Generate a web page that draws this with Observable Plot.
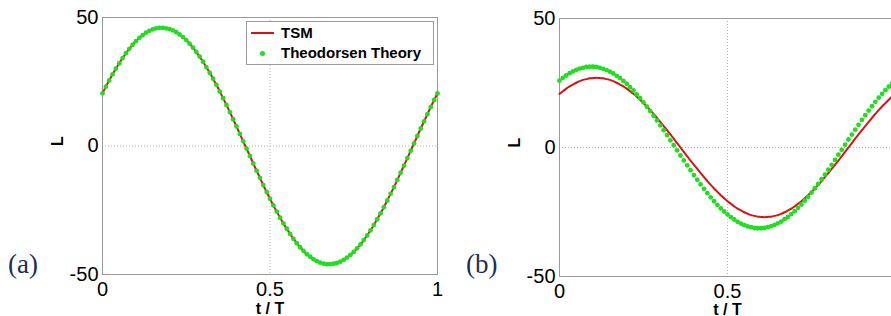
<!DOCTYPE html>
<html>
<head>
<meta charset="utf-8">
<script src="https://cdn.jsdelivr.net/npm/d3@7"></script>
<script src="https://cdn.jsdelivr.net/npm/@observablehq/plot@0.6"></script>
<style>
  html, body { margin: 0; padding: 0; background: #fff; }
  #wrap { position: relative; width: 891px; height: 316px; overflow: hidden; background: #fff; }
  .panel { position: absolute; top: 0; }
  .panel svg { max-width: none !important; }
  .tag { position: absolute; font-family: "Liberation Serif", "Times New Roman", serif; font-size: 27px; line-height: 27px; color: #1f2e52; }
  #legend { position: absolute; left: 246px; top: 21px; width: 186px; height: 42px; border: 1px solid #9a9a9a; background: #fff;
            font-family: "Liberation Sans", Arial, sans-serif; font-weight: bold; font-size: 15px; color: #000; }
  #legend .lbl { position: absolute; left: 34px; line-height: 18px; white-space: nowrap; }
</style>
</head>
<body>
<div id="wrap">
  <div id="pa" class="panel" style="left:0;width:445px"></div>
  <div id="pb" class="panel" style="left:445px;width:460px"></div>
  <div id="legend">
    <div style="position:absolute;left:4px;top:10px;width:23px;height:2px;background:#dd1111"></div>
    <div class="lbl" style="top:2px">TSM</div>
    <div style="position:absolute;left:13px;top:29px;width:5px;height:5px;border-radius:50%;background:#22dd22"></div>
    <div class="lbl" style="top:22px">Theodorsen Theory</div>
  </div>
  <div class="tag" style="left:8px;top:251px">(a)</div>
  <div class="tag" style="left:466px;top:251px">(b)</div>
</div>
<script>
// time grid t/T
const tGrid = [0,0.01,0.02,0.03,0.04,0.05,0.06,0.07,0.08,0.09,0.1,0.11,0.12,0.13,0.14,0.15,0.16,0.17,0.18,0.19,0.2,
  0.21,0.22,0.23,0.24,0.25,0.26,0.27,0.28,0.29,0.3,0.31,0.32,0.33,0.34,0.35,0.36,0.37,0.38,0.39,0.4,
  0.41,0.42,0.43,0.44,0.45,0.46,0.47,0.48,0.49,0.5,0.51,0.52,0.53,0.54,0.55,0.56,0.57,0.58,0.59,0.6,
  0.61,0.62,0.63,0.64,0.65,0.66,0.67,0.68,0.69,0.7,0.71,0.72,0.73,0.74,0.75,0.76,0.77,0.78,0.79,0.8,
  0.81,0.82,0.83,0.84,0.85,0.86,0.87,0.88,0.89,0.9,0.91,0.92,0.93,0.94,0.95,0.96,0.97,0.98,0.99,1];

// panel (a): TSM and Theodorsen theory (coincide)
const tsmA = [20.5,23.1,25.5,27.9,30.1,32.2,34.2,36.1,37.8,39.4,40.8,42.1,43.1,44.1,44.8,45.4,45.8,46.0,46.0,45.8,45.5,
  45.0,44.3,43.4,42.4,41.2,39.8,38.3,36.6,34.8,32.8,30.7,28.5,26.2,23.8,21.2,18.6,16.0,13.2,10.4,7.6,
  4.7,1.8,-1.0,-3.9,-6.8,-9.6,-12.4,-15.2,-17.9,-20.5,
  -23.1,-25.5,-27.9,-30.1,-32.2,-34.2,-36.1,-37.8,-39.4,-40.8,-42.1,-43.1,-44.1,-44.8,-45.4,-45.8,-46.0,-46.0,-45.8,-45.5,
  -45.0,-44.3,-43.4,-42.4,-41.2,-39.8,-38.3,-36.6,-34.8,-32.8,-30.7,-28.5,-26.2,-23.8,-21.2,-18.6,-16.0,-13.2,-10.4,-7.6,
  -4.7,-1.8,1.0,3.9,6.8,9.6,12.4,15.2,17.9,20.5];
const theoA = [20.5,23.1,25.5,27.9,30.1,32.2,34.2,36.1,37.8,39.4,40.8,42.1,43.1,44.1,44.8,45.4,45.8,46.0,46.0,45.8,45.5,
  45.0,44.3,43.4,42.4,41.2,39.8,38.3,36.6,34.8,32.8,30.7,28.5,26.2,23.8,21.2,18.6,16.0,13.2,10.4,7.6,
  4.7,1.8,-1.0,-3.9,-6.8,-9.6,-12.4,-15.2,-17.9,-20.5,
  -23.1,-25.5,-27.9,-30.1,-32.2,-34.2,-36.1,-37.8,-39.4,-40.8,-42.1,-43.1,-44.1,-44.8,-45.4,-45.8,-46.0,-46.0,-45.8,-45.5,
  -45.0,-44.3,-43.4,-42.4,-41.2,-39.8,-38.3,-36.6,-34.8,-32.8,-30.7,-28.5,-26.2,-23.8,-21.2,-18.6,-16.0,-13.2,-10.4,-7.6,
  -4.7,-1.8,1.0,3.9,6.8,9.6,12.4,15.2,17.9,20.5];

// panel (b)
const tsmB = [20.8,21.8,22.8,23.7,24.4,25.1,25.7,26.2,26.5,26.8,26.9,27.0,26.9,26.8,26.5,26.2,25.7,25.1,24.4,23.7,22.8,
  21.8,20.8,19.7,18.5,17.2,15.9,14.5,13.0,11.5,9.9,8.3,6.7,5.1,3.4,1.7,0.0,-1.7,-3.4,-5.1,-6.7,
  -8.3,-9.9,-11.5,-13.0,-14.5,-15.9,-17.2,-18.5,-19.7,-20.8,
  -21.8,-22.8,-23.7,-24.4,-25.1,-25.7,-26.2,-26.5,-26.8,-26.9,-27.0,-26.9,-26.8,-26.5,-26.2,-25.7,-25.1,-24.4,-23.7,-22.8,
  -21.8,-20.8,-19.7,-18.5,-17.2,-15.9,-14.5,-13.0,-11.5,-9.9,-8.3,-6.7,-5.1,-3.4,-1.7,0.0,1.7,3.4,5.1,6.7,
  8.3,9.9,11.5,13.0,14.5,15.9,17.2,18.5,19.7,20.8];
const theoB = [25.9,27.0,27.9,28.8,29.5,30.1,30.6,30.9,31.2,31.3,31.3,31.2,30.9,30.5,30.0,29.4,28.7,27.8,26.9,25.8,24.7,
  23.4,22.1,20.6,19.1,17.5,15.8,14.1,12.3,10.5,8.6,6.7,4.8,2.8,0.9,-1.1,-3.1,-5.0,-6.9,-8.8,-10.7,
  -12.5,-14.3,-16.0,-17.7,-19.3,-20.8,-22.2,-23.6,-24.8,-25.9,
  -27.0,-27.9,-28.8,-29.5,-30.1,-30.6,-30.9,-31.2,-31.3,-31.3,-31.2,-30.9,-30.5,-30.0,-29.4,-28.7,-27.8,-26.9,-25.8,-24.7,
  -23.4,-22.1,-20.6,-19.1,-17.5,-15.8,-14.1,-12.3,-10.5,-8.6,-6.7,-4.8,-2.8,-0.9,1.1,3.1,5.0,6.9,8.8,10.7,
  12.5,14.3,16.0,17.7,19.3,20.8,22.2,23.6,24.8,25.9];

const xTicks = [0, 0.5, 1];
const yTicks = [-50, 0, 50];
const gridX = [0.5];
const gridY = [0];
const xLabel = "t / T";
const yLabel = "L";

function panel(tsm, theo, o) {
  const lineRows = tGrid.map((t, i) => ({t, L: tsm[i]}));
  const dotRows = tGrid.map((t, i) => ({t, L: theo[i]}));
  return Plot.plot({
    width: o.width, height: 316,
    marginLeft: o.ml, marginRight: o.mr, marginTop: o.mt, marginBottom: o.mb,
    style: {fontFamily: "'Liberation Sans', Arial, sans-serif", fontSize: "20px", background: "transparent", overflow: "visible", color: "#000", maxWidth: "none"},
    x: {domain: [0, 1], ticks: xTicks, tickSize: 0, tickPadding: 7, tickFormat: d => String(d), label: null},
    y: {domain: [-50, 50], ticks: yTicks, tickSize: 0, tickPadding: 4, tickFormat: d => String(d), label: null},
    marks: [
      Plot.ruleX(gridX, {stroke: "#b5b5b5", strokeDasharray: "1,2"}),
      Plot.ruleY(gridY, {stroke: "#b5b5b5", strokeDasharray: "1,2"}),
      Plot.frame({stroke: "#9a9a9a"}),
      Plot.line(lineRows, {x: "t", y: "L", stroke: "#dd1111", strokeWidth: 2, curve: "catmull-rom"}),
      Plot.dot(dotRows, {x: "t", y: "L", r: 2.4, fill: "#22dd22", stroke: "none"}),
      Plot.text([xLabel], {text: d => d, frameAnchor: "bottom", lineAnchor: "middle", dy: o.xdy, fontWeight: "bold", fontSize: 16}),
      Plot.text([yLabel], {text: d => d, frameAnchor: "left", dx: -45, rotate: -90, fontWeight: "bold", fontSize: 16})
    ]
  });
}

document.getElementById("pa").appendChild(panel(tsmA, theoA, {width: 445, ml: 102, mr: 8, mt: 17, mb: 42, xdy: 34}));
document.getElementById("pb").appendChild(panel(tsmB, theoB, {width: 460, ml: 114, mr: 10, mt: 18, mb: 40, xdy: 33}));
</script>
</body>
</html>
